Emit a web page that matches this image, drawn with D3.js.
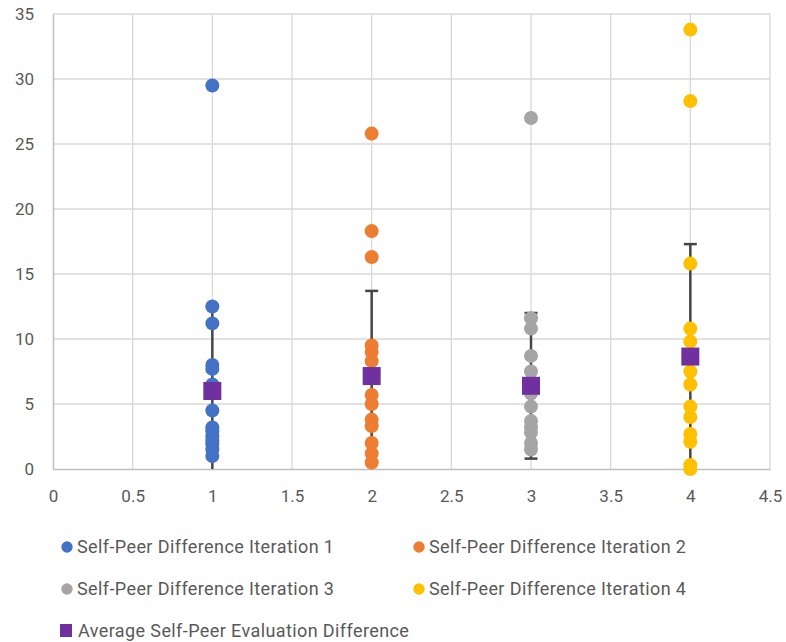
<!DOCTYPE html>
<html>
<head>
<meta charset="utf-8">
<script src="https://cdn.jsdelivr.net/npm/d3@7"></script>
<style>
  body { margin: 0; background: #fff; }
  text { font-family: Roboto, sans-serif; fill: #595959; }
</style>
</head>
<body>
<script>
// values
const iter1 = [29.5, 12.5, 11.2, 8.0, 7.7, 6.5, 4.5, 3.2, 2.9, 2.5, 2.2, 1.9, 1.5, 1.0]
const iter2 = [25.8, 18.3, 16.3, 9.5, 9.0, 8.3, 5.7, 5.0, 3.8, 3.3, 2.0, 1.2, 0.5]
const iter3 = [27.0, 11.6, 10.8, 8.7, 7.5, 5.8, 4.8, 3.7, 3.2, 2.8, 2.0, 1.5]
const iter4 = [33.8, 28.3, 15.8, 10.8, 9.8, 7.5, 6.5, 4.8, 4.0, 2.7, 2.1, 0.3, 0.0]
const iterations = [1, 2, 3, 4]
const averages = [6.0, 7.15, 6.4, 8.65]
const errors = [6.4, 6.55, 5.6, 8.65]
const seriesNames = [
  'Self-Peer Difference Iteration 1',
  'Self-Peer Difference Iteration 2',
  'Self-Peer Difference Iteration 3',
  'Self-Peer Difference Iteration 4'
]
const avgName = 'Average Self-Peer Evaluation Difference'
const colors = ['#4472C4', '#ED7D31', '#A5A5A5', '#FFC000']
const avgColor = '#7030A0'
const xTicks = [0, 0.5, 1, 1.5, 2, 2.5, 3, 3.5, 4, 4.5]
const yTicks = [0, 5, 10, 15, 20, 25, 30, 35]

const width = 786
const height = 642
const plotLeft = 53, plotRight = 770, plotTop = 14, plotBottom = 469

const svg = d3.select('body')
  .append('svg')
  .attr('width', width)
  .attr('height', height)

const x = d3.scaleLinear().domain([0, 4.5]).range([plotLeft, plotRight])
const y = d3.scaleLinear().domain([0, 35]).range([plotBottom, plotTop])

// gridlines
svg.append('g')
  .selectAll('line')
  .data(yTicks.slice(1))
  .enter()
  .append('line')
  .attr('x1', plotLeft).attr('x2', plotRight)
  .attr('y1', d => y(d)).attr('y2', d => y(d))
  .attr('stroke', '#d9d9d9').attr('stroke-width', 1.3)

svg.append('g')
  .selectAll('line')
  .data(xTicks.slice(1))
  .enter()
  .append('line')
  .attr('x1', d => x(d)).attr('x2', d => x(d))
  .attr('y1', plotTop).attr('y2', plotBottom)
  .attr('stroke', '#d9d9d9').attr('stroke-width', 1.3)

// axes
const xAxis = svg.append('g')
  .attr('transform', `translate(0,${plotBottom})`)
  .call(d3.axisBottom(x).tickValues(xTicks).tickSize(0).tickPadding(21).tickFormat(d3.format('')))
const yAxis = svg.append('g')
  .attr('transform', `translate(${plotLeft},0)`)
  .call(d3.axisLeft(y).tickValues(yTicks).tickSize(0).tickPadding(19))

;[xAxis, yAxis].forEach(a => {
  a.select('.domain').attr('stroke', '#bfbfbf').attr('stroke-width', 1.5)
  a.selectAll('text').attr('font-size', 17).attr('fill', '#595959')
    .style('font-family', 'Roboto, sans-serif')
})

// error bars of the average series
const eb = svg.append('g')
averages.forEach((m, i) => {
  const lo = Math.max(0, m - errors[i])
  const hi = m + errors[i]
  const cx = x(iterations[i])
  eb.append('line')
    .attr('x1', cx).attr('x2', cx)
    .attr('y1', y(lo)).attr('y2', y(hi))
    .attr('stroke', '#454545').attr('stroke-width', 2.5)
  ;[lo, hi].forEach(v => {
    if (v <= 0) return
    eb.append('line')
      .attr('x1', cx - 6.5).attr('x2', cx + 6.5)
      .attr('y1', y(v)).attr('y2', y(v))
      .attr('stroke', '#454545').attr('stroke-width', 2.5)
  })
})

// scatter points
const allSeries = [iter1, iter2, iter3, iter4]
allSeries.forEach((vals, i) => {
  svg.append('g')
    .selectAll('circle')
    .data(vals)
    .enter()
    .append('circle')
    .attr('cx', x(iterations[i]))
    .attr('cy', d => y(d))
    .attr('r', 7)
    .attr('fill', colors[i])
})

// average markers
svg.append('g')
  .selectAll('rect')
  .data(averages)
  .enter()
  .append('rect')
  .attr('x', (d, i) => x(iterations[i]) - 9)
  .attr('y', d => y(d) - 9)
  .attr('width', 18)
  .attr('height', 18)
  .attr('fill', avgColor)

// legend
const legendPos = [[67, 547], [419, 547], [67, 589], [419, 589]]
const legend = svg.append('g')
  .attr('font-size', 18)
  .attr('letter-spacing', 0.4)
seriesNames.forEach((name, i) => {
  const [lx, ly] = legendPos[i]
  legend.append('circle')
    .attr('cx', lx).attr('cy', ly).attr('r', 5.7).attr('fill', colors[i])
  legend.append('text')
    .attr('x', lx + 10).attr('y', ly + 6)
    .text(name)
})
legend.append('rect')
  .attr('x', 60).attr('y', 624).attr('width', 12).attr('height', 13).attr('fill', avgColor)
legend.append('text')
  .attr('x', 78).attr('y', 637)
  .text(avgName)
</script>
</body>
</html>
